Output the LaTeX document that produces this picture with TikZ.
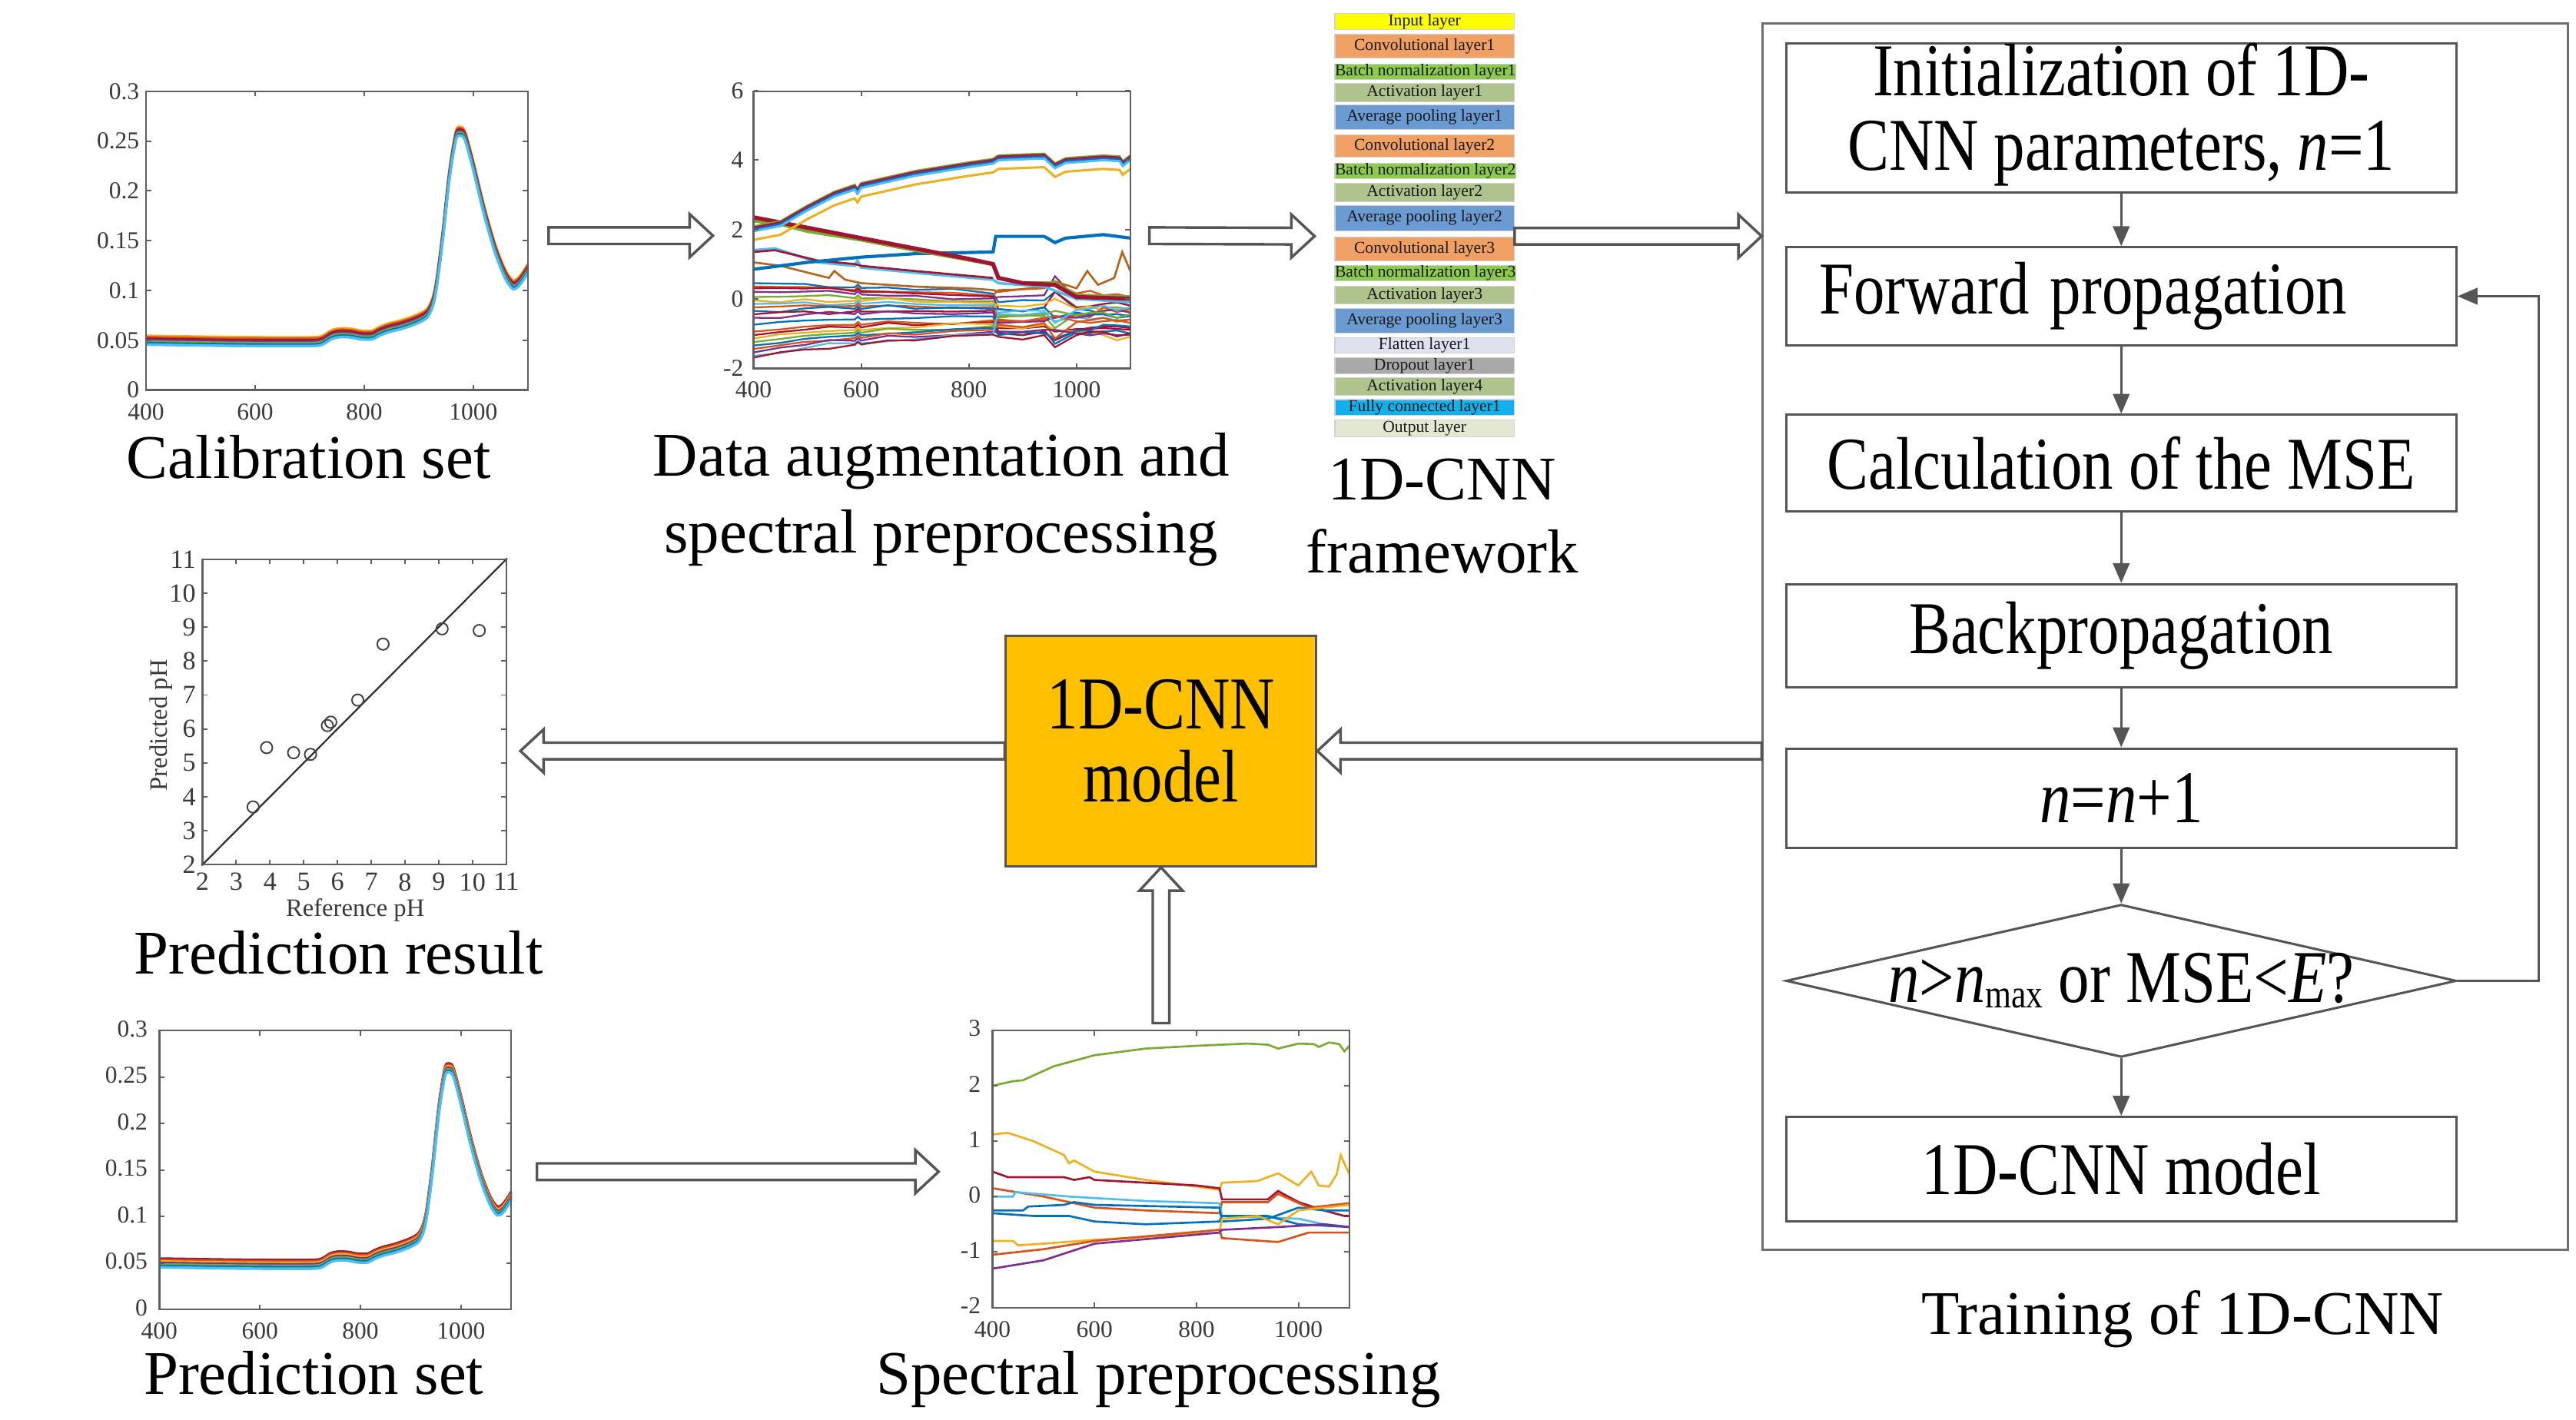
\documentclass[tikz,border=0pt]{standalone}
\usepackage{fontspec}
\setmainfont{Liberation Serif}
\usepackage{graphicx}
\usetikzlibrary{calc,shapes.geometric,arrows.meta}
\definecolor{m1}{HTML}{0072BD}
\definecolor{m2}{HTML}{D95319}
\definecolor{m3}{HTML}{EDB120}
\definecolor{m4}{HTML}{7E2F8E}
\definecolor{m5}{HTML}{77AC30}
\definecolor{m6}{HTML}{4DBEEE}
\definecolor{m7}{HTML}{A2142F}
\definecolor{brn}{HTML}{B5651D}
\definecolor{inc}{HTML}{FFFF00}
\definecolor{convc}{HTML}{F0A063}
\definecolor{bnc}{HTML}{8CCB4E}
\definecolor{actc}{HTML}{AFC38C}
\definecolor{apc}{HTML}{6A9BD2}
\definecolor{flc}{HTML}{DDE1F0}
\definecolor{drc}{HTML}{A9A9A9}
\definecolor{fcc}{HTML}{12B0EC}
\definecolor{outc}{HTML}{E2E8D2}
\definecolor{modelc}{HTML}{FFC000}
\definecolor{lnc}{HTML}{555555}
\definecolor{axc}{HTML}{606060}
\definecolor{tlc}{HTML}{3A3A3A}
\newcommand\vstretch[1]{\scalebox{1}[1.2]{#1}}
\newcommand\blockarrow[2]{%
  \path ($(#2)!0.28cm!(#1)$) coordinate (bahb);
  \draw[hollowarr] ($(#1)!0.1cm!90:(#2)$) -- ($(bahb)!0.1cm!90:(#2)$) -- ($(bahb)!0.26cm!90:(#2)$) -- (#2) -- ($(bahb)!0.26cm!-90:(#2)$) -- ($(bahb)!0.1cm!-90:(#2)$) -- ($(#1)!0.1cm!-90:(#2)$) -- cycle;}
\newcommand\calibdraw{\draw[line width=0.9pt] plot[smooth, tension=0.5] coordinates {(0,.0500) (60,.0495) (150,.0488) (250,.0485) (310,.0487) (325,.0505) (340,.0555) (355,.0575) (375,.0572) (395,.0552) (415,.0553) (428,.0590) (445,.0625) (470,.0660) (500,.0720) (518,.0790) (530,.0980) (543,.1500) (556,.2150) (568,.2550) (576,.2600) (585,.2550) (600,.2250) (620,.1800) (640,.1420) (658,.1170) (672,.1060) (682,.1080) (692,.1150) (700,.1220)};}
\newcommand\augupdraw{\draw[line width=0.8pt] plot coordinates {(0,2.0) (50,2.15) (100,2.6) (150,3.0) (188,3.2) (193,3.08) (200,3.25) (300,3.6) (400,3.85) (445,3.95) (455,4.05) (540,4.1) (560,3.82) (580,3.97) (650,4.05) (680,4.02) (686,3.88) (700,4.05)};}
\tikzset{
  axbox/.style={draw=axc, line width=0.6pt, inner sep=0},
  tk/.style={draw=axc, line width=0.5pt},
  tl/.style={font=\fontsize{8.3}{9}\selectfont, text=tlc, inner sep=1pt},
  tls/.style={font=\fontsize{9}{10}\selectfont, text=tlc, inner sep=1pt},
  captext/.style={font=\fontsize{21.3}{26.5}\selectfont, inner sep=0, anchor=base},
  layerbox/.style={draw=black!18, line width=0.3pt, minimum width=2.16cm, inner sep=0, anchor=north west, font=\fontsize{5.7}{6}\selectfont, text=black!90},
  flowbox/.style={draw=lnc, line width=0.8pt, minimum width=8.08cm, inner sep=0, font=\fontsize{21.3}{21.3}\selectfont, align=center},
  farrow/.style={draw=lnc, line width=0.7pt, -{Triangle[length=0.24cm,width=0.2cm]}},
  hollowarr/.style={draw=lnc, line width=0.9pt, fill=white, line join=miter}
}
\begin{document}
\begin{tikzpicture}[x=0.02cm,y=-0.02cm]
\pgfmathsetseed{7}
\useasboundingbox (0,0) rectangle (1552,855.6);

%================ Calibration set =================
\foreach \o/\c in {1.5/m3,1.0/m2,0.5/m7,0/m4,-0.5/m5,-1.0/m1,-1.5/m6}{
  \begin{scope}[yshift=\o pt]
    \begin{scope}[shift={(88,235)},xscale=0.328571,yscale=-600,color=\c]
      \calibdraw
    \end{scope}
  \end{scope}}
\node[axbox, minimum width=4.6cm, minimum height=3.6cm] (calib) at (203,145) {};
\foreach \t [count=\i] in {400,600,800,1000}{
  \pgfmathsetmacro\px{88+(\t-400)/700*230}
  \draw[tk] (\px,235) -- ++(0,-3) (\px,55) -- ++(0,3);
  \node[tl, anchor=north] (cax\i) at (\px,241) {\t};}
\foreach \v/\l [count=\i] in {0/0,0.05/0.05,0.1/0.1,0.15/0.15,0.2/0.2,0.25/0.25,0.3/0.3}{
  \pgfmathsetmacro\py{235-\v*600}
  \draw[tk] (88,\py) -- ++(3,0) (318,\py) -- ++(-3,0);
  \node[tl, anchor=east] (cay\i) at (86,\py) {\l};}
\node[captext] (capcal) at (186,288) {Calibration set};

%================ Data augmentation =================
\begin{scope}
  \clip (454,55) rectangle (681,222);
  \begin{scope}[shift={(454,180)},xscale=0.324286,yscale=-20.875]
    \foreach \a/\c/\k/\e/\col in {0.45/-0.1/0.3/-0.5/m1, 0.35/0.25/0.2/0.05/m2, 0.30/-0.3/0.5/-0.2/m7, 0.20/0.05/0.6/-0.1/m4, 0.05/-0.55/-0.3/-0.3/m5, -0.05/-0.2/0.2/-0.4/m3, -0.15/-0.45/-0.2/-0.6/m6, -0.25/-0.65/0.1/-0.3/m2, -0.35/-0.3/-0.25/-0.5/m1, -0.45/-0.85/-0.1/-0.9/m7, -0.55/-0.7/0.2/-0.4/m4, -0.75/-0.95/-0.35/-1.0/m1, -0.95/-0.6/0.1/-0.7/m2, -1.05/-1.0/-0.2/-0.85/m7, -1.15/-0.8/-0.1/-1.1/m3, -1.25/-0.5/0.15/-0.45/m5, -1.35/-1.05/-0.1/-0.8/m1, -1.45/-0.75/-0.4/-0.6/m2, -1.55/-0.95/0.05/-1.05/m4, -1.65/-0.4/-0.3/-0.25/m6, -1.7/-1.1/-0.3/-1.0/m7}{
      \draw[color=\col, line width=0.6pt] (0,\a) -- (50,{\a*0.94+0.06*rand}) -- (95,{\a*0.88+0.03}) -- (140,{\a*0.82+0.08*rand}) -- (188,{\a*0.77-0.02}) -- (194,{\a*0.77+0.06}) -- (200,{\a*0.76-0.03}) -- (250,{\a*0.72+0.07*rand}) -- (300,{\a*0.68-0.05}) -- (370,{\a*0.62-0.07+0.08*rand}) -- (445,{\a*0.55-0.1}) -- (455,\c) -- (500,{\c+0.08*rand}) -- (540,{\c+0.05}) -- (560,{\c+\k}) -- (600,{(\c+\e)/2}) -- (625,{(\c+\e)/2+0.1*rand}) -- (650,{\e+0.05}) -- (675,{\e+0.1*rand}) -- (700,\e);}
    \draw[color=brn, line width=0.7pt] (0,1.05) -- (50,0.95) -- (140,0.6) -- (150,0.8) -- (170,0.55) -- (200,0.45) -- (300,0.35) -- (400,0.3) -- (445,0.25) -- (455,0.2) -- (540,0.35) -- (560,0.5) -- (600,0.3) -- (620,0.8) -- (640,0.4) -- (670,0.6) -- (685,1.35) -- (700,0.8);
    \draw[color=m6, line width=0.9pt] (0,1.4) -- (40,1.45) -- (120,1.05) -- (188,0.95) -- (193,1.1) -- (200,0.9) -- (300,0.75) -- (445,0.55) -- (455,0.45) -- (540,0.35) -- (600,0.0) -- (700,-0.1);
    \draw[color=m7, line width=0.7pt] (0,1.35) -- (40,1.4) -- (120,1.1) -- (188,1.0) -- (200,0.95) -- (300,0.8) -- (445,0.6);
    \draw[color=m1, line width=1.1pt] (0,0.85) -- (100,1.05) -- (200,1.2) -- (300,1.3) -- (445,1.35) -- (450,1.8) -- (540,1.8) -- (560,1.62) -- (580,1.75) -- (650,1.85) -- (700,1.75);
    \draw[color=m5, line width=1.2pt] (0,2.25) -- (50,2.15) -- (100,1.95) -- (200,1.7) -- (300,1.4) -- (400,1.12) -- (445,1.0) -- (455,0.6) -- (500,0.45) -- (560,0.45) -- (600,0.1) -- (700,0.05);
    \draw[color=m7, line width=1.4pt] (0,2.35) -- (50,2.2) -- (100,2.05) -- (200,1.75) -- (300,1.45) -- (400,1.15) -- (445,1.0) -- (455,0.6) -- (500,0.45) -- (560,0.4) -- (600,0.05) -- (700,0.0);
  \end{scope}
  \foreach \o/\c in {1.0/m5,0.6/m7,0.2/m4,-0.2/m1,-0.6/m6,-3.6/m3}{
    \begin{scope}[yshift=\o pt]
      \begin{scope}[shift={(454,180)},xscale=0.324286,yscale=-20.875,color=\c]
        \augupdraw
      \end{scope}
    \end{scope}}
\end{scope}
\node[axbox, minimum width=4.54cm, minimum height=3.34cm] (aug) at (567.5,138.5) {};
\foreach \t [count=\i] in {400,600,800,1000}{
  \pgfmathsetmacro\px{454+(\t-400)/700*227}
  \draw[tk] (\px,222) -- ++(0,-3) (\px,55) -- ++(0,3);
  \node[tl, anchor=north] (aux\i) at (\px,228) {\t};}
\foreach \v [count=\i] in {-2,0,2,4,6}{
  \pgfmathsetmacro\py{180-\v*20.875}
  \draw[tk] (454,\py) -- ++(3,0) (681,\py) -- ++(-3,0);
  \node[tl, anchor=east] (auy\i) at (450,\py) {\v};}
\node[captext] (capaug1) at (567,287) {Data augmentation and};
\node[captext] (capaug2) at (567,333) {spectral preprocessing};

%================ 1D-CNN framework stack =================
\foreach \n/\t/\b/\col/\txt in {
  lin/8/17.5/inc/Input layer,
  lc1/20.3/34.7/convc/Convolutional layer1,
  lb1/38.5/46.8/bnc/Batch normalization layer1,
  la1/49.8/61/actc/Activation layer1,
  lp1/63.1/77.7/apc/Average pooling layer1,
  lc2/80.8/94.6/convc/Convolutional layer2,
  lb2/98.1/106.7/bnc/Batch normalization layer2,
  la2/110.2/121.4/actc/Activation layer2,
  lp2/123.6/138.7/apc/Average pooling layer2,
  lc3/142.6/156.8/convc/Convolutional layer3,
  lb3/159.9/168.5/bnc/Batch normalization layer3,
  la3/172.3/182.7/actc/Activation layer3,
  lp3/185.8/200.5/apc/Average pooling layer3,
  lfl/203.4/212.4/flc/Flatten layer1,
  ldr/215.1/225/drc/Dropout layer1,
  la4/227.5/237.9/actc/Activation layer4,
  lfc/240.5/250/fcc/Fully connected layer1,
  lout/252.6/263/outc/Output layer}{
  \pgfmathsetmacro\hh{(\b-\t)*0.02}
  \node[layerbox, fill=\col, minimum height=\hh cm] (\n) at (804,\t) {\txt};}
\node[captext] (capfw1) at (869,301) {1D-CNN};
\node[captext] (capfw2) at (869,345) {framework};

%================ Training of 1D-CNN =================
\node[draw=lnc!85, line width=0.8pt, minimum width=9.7cm, minimum height=14.78cm, inner sep=0] (train) at (1304.5,383.5) {};
\node[flowbox, minimum height=1.72cm] (init) at (1278,71) {\vstretch{\begin{tabular}{@{}c@{}}Initialization of 1D-\\CNN parameters, \textit{n}=1\end{tabular}}};
\node[flowbox, minimum height=1.18cm, text width=7.28cm, align=left, inner xsep=0.4cm] (fwd) at (1278,178.5) {\vstretch{Forward propagation}};
\node[flowbox, minimum height=1.16cm] (mse) at (1278,279) {\vstretch{Calculation of the MSE}};
\node[flowbox, minimum height=1.24cm] (bp) at (1278,383) {\vstretch{Backpropagation}};
\node[flowbox, minimum height=1.2cm] (inc) at (1278,481) {\vstretch{\textit{n}=\textit{n}+1}};
\node[draw=lnc, line width=0.8pt, diamond, aspect=4.39, minimum width=8.08cm, minimum height=1.84cm, inner sep=0] (dec) at (1278,591) {};
\node[font=\fontsize{21.3}{21.3}\selectfont, inner sep=0] (dectxt) at (1278,591) {\vstretch{\textit{n}>\textit{n}\raisebox{-1.5pt}{\fontsize{11.5}{12}\selectfont max} or MSE<\textit{E}?}};
\node[flowbox, minimum height=1.26cm] (fin) at (1278,704.5) {\vstretch{1D-CNN model}};
\draw[farrow] (init) -- (fwd);
\draw[farrow] (fwd) -- (mse);
\draw[farrow] (mse) -- (bp);
\draw[farrow] (bp) -- (inc);
\draw[farrow] (inc) -- (dec);
\draw[farrow] (dec) -- (fin);
\draw[farrow] (dec.east) -- ++(49,0) |- (fwd.east);
\node[captext] (captrain) at (1315,804) {Training of 1D-CNN};

%================ Model box =================
\node[draw=lnc, fill=modelc, line width=0.8pt, minimum width=3.74cm, minimum height=2.78cm, inner sep=0, font=\fontsize{21.3}{20.4}\selectfont] (model) at (699.5,452.5) {\vstretch{\begin{tabular}{@{}c@{}}1D-CNN\\model\end{tabular}}};

%================ Prediction result (scatter) =================
\node[axbox, minimum width=3.66cm, minimum height=3.68cm] (scat) at (213.5,429) {};
\draw[line width=0.6pt, black!80] (scat.south west) -- (scat.north east);
\foreach \v [count=\i] in {2,...,11}{
  \pgfmathsetmacro\px{122+(\v-2)*20.333}
  \pgfmathsetmacro\py{521-(\v-2)*20.444}
  \draw[tk] (\px,521) -- ++(0,-3) (\px,337) -- ++(0,3);
  \draw[tk] (122,\py) -- ++(3,0) (305,\py) -- ++(-3,0);
  \node[tls, anchor=north] (sx\i) at (\px,524) {\v};
  \node[tls, anchor=east] (sy\i) at (120,\py) {\v};}
\foreach \r/\p [count=\i] in {3.5/3.7, 3.9/5.45, 4.7/5.3, 5.2/5.25, 5.7/6.1, 5.8/6.2, 6.6/6.85, 7.35/8.5, 9.1/8.95, 10.2/8.9}{
  \pgfmathsetmacro\px{122+(\r-2)*20.333}
  \pgfmathsetmacro\py{521-(\p-2)*20.444}
  \node[circle, draw=black!75, line width=0.5pt, inner sep=0, minimum size=0.14cm] (pt\i) at (\px,\py) {};}
\node[font=\fontsize{8.6}{9}\selectfont, text=tlc, anchor=base, inner sep=0] (reflab) at (214,552) {Reference pH};
\node[font=\fontsize{8.6}{9}\selectfont, text=tlc, rotate=90, inner sep=0] (predlab) at (97,437) {Predicted pH};
\node[captext] (capres) at (204,587) {Prediction result};

%================ Prediction set =================
\foreach \o/\c in {1.5/m7,1.0/m2,0.5/m3,0/m4,-0.5/m5,-1.0/m1,-1.5/m6}{
  \begin{scope}[yshift=\o pt]
    \begin{scope}[shift={(96,789)},xscale=0.302857,yscale=-560,color=\c]
      \calibdraw
    \end{scope}
  \end{scope}}
\node[axbox, minimum width=4.24cm, minimum height=3.36cm] (predset) at (202,705) {};
\foreach \t [count=\i] in {400,600,800,1000}{
  \pgfmathsetmacro\px{96+(\t-400)/700*212}
  \draw[tk] (\px,789) -- ++(0,-3) (\px,621) -- ++(0,3);
  \node[tl, anchor=north] (psx\i) at (\px,795) {\t};}
\foreach \v/\l [count=\i] in {0/0,0.05/0.05,0.1/0.1,0.15/0.15,0.2/0.2,0.25/0.25,0.3/0.3}{
  \pgfmathsetmacro\py{789-\v*560}
  \draw[tk] (96,\py) -- ++(3,0) (308,\py) -- ++(-3,0);
  \node[tl, anchor=east] (psy\i) at (91,\py-1) {\l};}
\node[captext] (capps) at (189,840) {Prediction set};

%================ Spectral preprocessing =================
\begin{scope}
  \clip (598,621) rectangle (813,788);
  \begin{scope}[shift={(598,721)},xscale=0.307143,yscale=-33.4]
    \draw[color=m5, line width=0.7pt] (0,2.0) -- (40,2.08) -- (60,2.1) -- (120,2.35) -- (200,2.55) -- (300,2.67) -- (400,2.72) -- (500,2.76) -- (540,2.74) -- (560,2.67) -- (600,2.76) -- (630,2.75) -- (640,2.7) -- (660,2.78) -- (680,2.75) -- (690,2.62) -- (700,2.72);
    \draw[color=m3, line width=0.7pt] (0,1.12) -- (30,1.15) -- (80,1.0) -- (140,0.75) -- (150,0.6) -- (160,0.65) -- (200,0.45) -- (300,0.3) -- (400,0.18) -- (445,0.12) -- (450,0.25) -- (520,0.28) -- (560,0.42) -- (600,0.2) -- (625,0.45) -- (640,0.2) -- (660,0.18) -- (675,0.4) -- (683,0.75) -- (690,0.6) -- (700,0.4);
    \draw[color=m7, line width=0.7pt] (0,0.45) -- (30,0.35) -- (140,0.35) -- (160,0.3) -- (190,0.35) -- (200,0.3) -- (300,0.25) -- (400,0.2) -- (445,0.15) -- (450,-0.05) -- (540,-0.05) -- (560,0.1) -- (600,-0.1) -- (650,-0.25) -- (690,-0.35) -- (700,-0.35);
    \draw[color=m2, line width=0.7pt] (0,0.15) -- (100,0.0) -- (200,-0.2) -- (300,-0.25) -- (445,-0.3) -- (450,-0.1) -- (540,-0.1) -- (560,0.05) -- (620,-0.2) -- (700,-0.12);
    \draw[color=m6, line width=0.7pt] (0,0.0) -- (40,0.0) -- (45,0.08) -- (150,0.0) -- (300,-0.08) -- (445,-0.12) -- (450,-0.35) -- (600,-0.4) -- (650,-0.5) -- (700,-0.55);
    \draw[color=m1, line width=0.7pt] (0,-0.25) -- (60,-0.25) -- (70,-0.18) -- (140,-0.15) -- (160,-0.1) -- (200,-0.15) -- (445,-0.2) -- (450,-0.45) -- (540,-0.4) -- (600,-0.2) -- (650,-0.25) -- (700,-0.25);
    \draw[color=m1, line width=0.7pt] (0,-0.3) -- (80,-0.35) -- (150,-0.35) -- (200,-0.45) -- (300,-0.5) -- (445,-0.45) -- (450,-0.35) -- (540,-0.35) -- (600,-0.5) -- (700,-0.55);
    \draw[color=m3, line width=0.7pt] (0,-0.8) -- (40,-0.8) -- (50,-0.88) -- (100,-0.85) -- (200,-0.78) -- (445,-0.65) -- (450,-0.4) -- (520,-0.35) -- (560,-0.5) -- (600,-0.25) -- (700,-0.15);
    \draw[color=m2, line width=0.7pt] (0,-1.05) -- (100,-0.95) -- (200,-0.8) -- (445,-0.6) -- (450,-0.75) -- (560,-0.82) -- (620,-0.65) -- (700,-0.65);
    \draw[color=m4, line width=0.7pt] (0,-1.3) -- (100,-1.15) -- (200,-0.85) -- (445,-0.65) -- (450,-0.6) -- (560,-0.55) -- (650,-0.5) -- (700,-0.55);
  \end{scope}
\end{scope}
\node[axbox, minimum width=4.3cm, minimum height=3.34cm] (spec) at (705.5,704.5) {};
\foreach \t [count=\i] in {400,600,800,1000}{
  \pgfmathsetmacro\px{598+(\t-400)/700*215}
  \draw[tk] (\px,788) -- ++(0,-3) (\px,621) -- ++(0,3);
  \node[tl, anchor=north] (spx\i) at (\px,794) {\t};}
\foreach \v [count=\i] in {-2,-1,0,1,2,3}{
  \pgfmathsetmacro\py{721-\v*33.4}
  \draw[tk] (598,\py) -- ++(3,0) (813,\py) -- ++(-3,0);
  \node[tl, anchor=east] (spy\i) at (593,\py-1) {\v};}
\node[captext] (capsp) at (698,840) {Spectral preprocessing};

%================ Hollow block arrows =================
\coordinate (a1s) at ($(calib.east)+(12,-3)$);
\coordinate (a1e) at ($(aug.west)+(-24,3.5)$);
\blockarrow{a1s}{a1e}
\coordinate (a2s) at ($(aug.east)+(11,3.5)$);
\coordinate (stkw) at ($(lp2.south west)!0.5!(lc3.north west)$);
\coordinate (a2e) at ($(stkw)+(-12,1.4)$);
\blockarrow{a2s}{a2e}
\coordinate (stke) at ($(lp2.south east)!0.5!(lc3.north east)$);
\coordinate (a3s) at ($(stke)+(0,1.4)$);
\coordinate (a3e) at (train.west |- a3s);
\blockarrow{a3s}{a3e}
\coordinate (a4s) at (train.west |- model.east);
\blockarrow{a4s}{model.east}
\coordinate (a5e) at ($(model.west -| scat.east)+(8,0)$);
\blockarrow{model.west}{a5e}
\coordinate (a6s) at ($(predset.east)+(15,1)$);
\coordinate (a6e) at ($(spec.west)+(-32,1.5)$);
\blockarrow{a6s}{a6e}
\coordinate (a7s) at ($(model.south |- spec.north)+(0,-4)$);
\blockarrow{a7s}{model.south}
\end{tikzpicture}
\end{document}
